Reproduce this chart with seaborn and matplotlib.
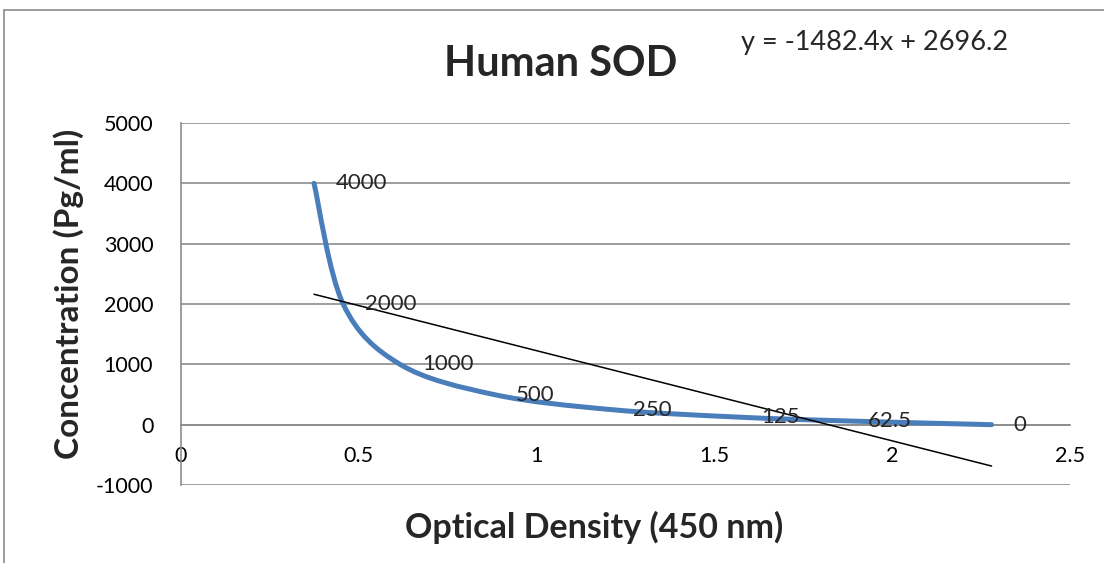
import matplotlib
matplotlib.use("Agg")
import matplotlib.pyplot as plt
import seaborn as sns
import numpy as np
import pandas as pd
from matplotlib.path import Path
from matplotlib.patches import PathPatch

# standard curve values
od = [0.374, 0.456, 0.616, 0.88, 1.21, 1.57, 1.87, 2.28]
conc = [4000, 2000, 1000, 500, 250, 125, 62.5, 0]
labels = ["4000", "2000", "1000", "500", "250", "125", "62.5", "0"]
x_ticks = [0, 0.5, 1, 1.5, 2, 2.5]
y_ticks = [-1000, 0, 1000, 2000, 3000, 4000, 5000]
equation = "y = -1482.4x + 2696.2"

df = pd.DataFrame({"od": od, "conc": conc})

sns.set_style("white")
plt.rcParams["font.family"] = ["Lato", "DejaVu Sans"]
plt.rcParams["axes.unicode_minus"] = False

fig = plt.figure(figsize=(11.04, 5.63), dpi=100)
ax = fig.add_axes([0.164, 0.1385, 0.805, 0.643])

# excel style smoothed line: bezier segments through the points
pts = np.column_stack([od, conc]).astype(float)
ext = np.vstack([pts[0], pts, pts[-1]])
verts = [tuple(pts[0])]
codes = [Path.MOVETO]
for i in range(len(pts) - 1):
    p0, p1, p2, p3 = ext[i], ext[i + 1], ext[i + 2], ext[i + 3]
    c1 = p1 + (p2 - p0) / 6
    c2 = p2 - (p3 - p1) / 6
    verts += [tuple(c1), tuple(c2), tuple(p2)]
    codes += [Path.CURVE4] * 3
ax.add_patch(PathPatch(Path(verts, codes), facecolor="none", edgecolor="#4a7ebb",
                       lw=3.6, capstyle="round", zorder=3))

# linear trendline
sns.regplot(data=df, x="od", y="conc", scatter=False, ci=None, truncate=True,
            line_kws={"color": "black", "lw": 1.1, "zorder": 4}, ax=ax)

for x, y, t in zip(od, conc, labels):
    ax.annotate(t, (x, y), xytext=(16, 0), textcoords="offset points",
                fontsize=16, va="center", ha="left", zorder=5)

ax.set_xlim(0, 2.5)
ax.set_ylim(-1000, 5000)
ax.set_xticks(x_ticks)
ax.set_xticklabels(["0", "0.5", "1", "1.5", "2", "2.5"])
ax.set_yticks(y_ticks)
ax.grid(axis="y", color="#8c8c8c", lw=1.2)
ax.set_axisbelow(True)

ax.spines["top"].set_visible(False)
ax.spines["right"].set_visible(False)
ax.spines["bottom"].set_position(("data", 0))
for s in ["left", "bottom"]:
    ax.spines[s].set_color("#8c8c8c")
    ax.spines[s].set_linewidth(1.2)
ax.tick_params(axis="both", which="both", labelsize=15.5, colors="#8c8c8c",
               labelcolor="black", direction="out", length=5, width=1.2)
ax.tick_params(axis="x", pad=10)
ax.tick_params(axis="y", pad=15)

ax.set_xlabel("")
ax.set_ylabel("")
fig.text(0.538, 0.064, "Optical Density (450 nm)", fontsize=24.5, fontweight="bold",
         ha="center", va="center")
fig.text(0.0625, 0.478, "Concentration (Pg/ml)", fontsize=24, fontweight="bold",
         ha="center", va="center", rotation=90)
fig.text(0.508, 0.887, "Human SOD", fontsize=30, fontweight="bold",
         ha="center", va="center")
fig.text(0.671, 0.925, equation, fontsize=19.5, ha="left", va="center")

# chart border (only top and left fall inside the picture)
fig.add_artist(plt.Line2D([0.004, 1.0], [0.982, 0.982], color="#8c8c8c", lw=1.2))
fig.add_artist(plt.Line2D([0.004, 0.004], [0.0, 0.982], color="#8c8c8c", lw=1.2))

fig.savefig("out.png", dpi=100)
